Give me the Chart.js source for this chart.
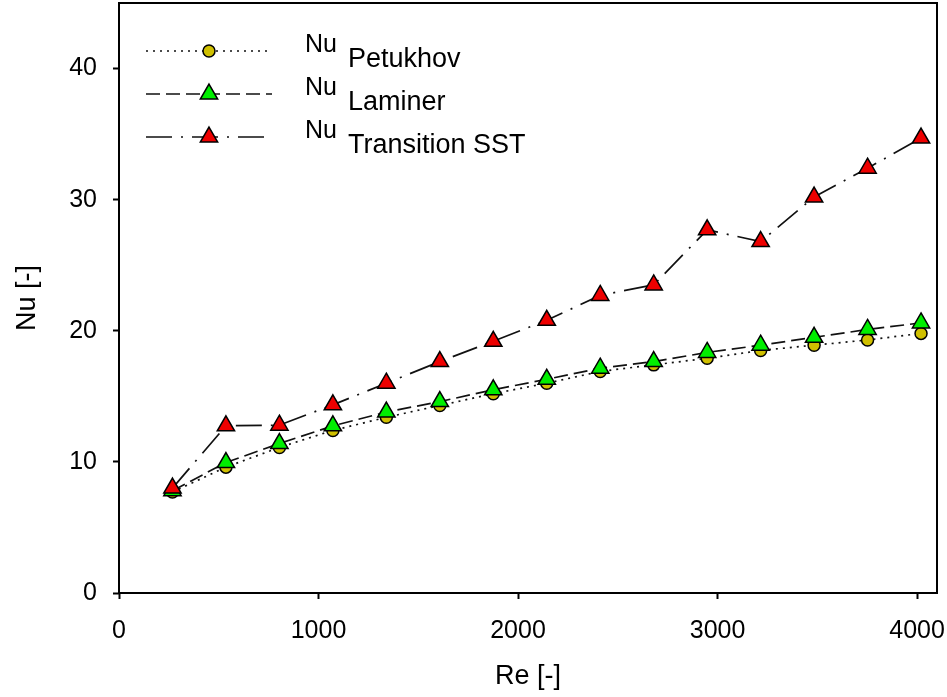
<!DOCTYPE html>
<html>
<head>
<meta charset="utf-8">
<title>Nu x Re</title>
<script src="https://cdn.jsdelivr.net/npm/chart.js@4.4.1/dist/chart.umd.min.js"></script>
<style>
    body { margin: 0; background: #ffffff; }
    canvas { display: block; }
</style>
</head>
<body>
<canvas id="nuChart" width="947" height="697"></canvas>
<script>
// valores
const reynolds = [268, 536, 804, 1072, 1340, 1608, 1876, 2144, 2412, 2680, 2948, 3216, 3484, 3752, 4020]
const nuPetukhov = [7.7, 9.6, 11.1, 12.4, 13.4, 14.3, 15.2, 16.0, 16.9, 17.4, 17.9, 18.5, 18.9, 19.3, 19.8]
const nuLaminer = [7.8, 9.95, 11.4, 12.75, 13.8, 14.6, 15.5, 16.3, 17.15, 17.65, 18.35, 18.9, 19.5, 20.1, 20.6]
const nuTransition = [8.0, 12.75, 12.8, 14.35, 16.0, 17.65, 19.2, 20.8, 22.7, 23.5, 27.7, 26.8, 30.2, 32.4, 34.7]
const nomes = ['Petukhov', 'Laminer', 'Transition SST']
const xTicks = [0, 1000, 2000, 3000, 4000]
const yTicks = [0, 10, 20, 30, 40]

function pontos(valores) {
    return reynolds.map((re, i) => ({ x: re, y: valores[i] }))
}

const fonte = "'Liberation Sans', Arial, sans-serif"

// o chart.js reserva espaço pros labels das pontas, aqui zera isso
function semPadding(scale) {
    scale.paddingLeft = 0
    scale.paddingRight = 0
    scale.paddingTop = 0
    scale.paddingBottom = 0
}

// moldura + legenda com subscrito (Nu_Petukhov etc)
const molduraLegenda = {
    id: 'molduraLegenda',
    afterDraw(chart) {
        const c = chart.ctx
        const area = chart.chartArea
        c.save()
        c.strokeStyle = '#000'
        c.lineWidth = 2
        c.strokeRect(area.left, area.top, area.right - area.left, area.bottom - area.top)

        const linhaIni = 146
        const linhaFim = 272
        const marcaX = 209
        chart.data.datasets.forEach((ds, i) => {
            const y = 51 + i * 43
            c.setLineDash(ds.borderDash)
            c.lineWidth = ds.borderWidth
            c.strokeStyle = ds.borderColor
            c.beginPath()
            c.moveTo(linhaIni, y)
            c.lineTo(linhaFim, y)
            c.stroke()
            c.setLineDash([])
            c.fillStyle = ds.pointBackgroundColor
            c.strokeStyle = '#000'
            c.lineWidth = 1.5
            Chart.helpers.drawPoint(c, { pointStyle: ds.pointStyle, radius: ds.pointRadius, rotation: 0, borderWidth: 1.5 }, marcaX, y)

            c.fillStyle = '#000'
            c.textBaseline = 'alphabetic'
            c.font = '25px ' + fonte
            c.fillText('Nu', 305, y + 1)
            c.font = '27px ' + fonte
            c.fillText(nomes[i], 348, y + 16)
        })
        c.restore()
    }
}

const ctx = document.getElementById('nuChart').getContext('2d')
const nuChart = new Chart(ctx, {
    type: 'line',
    data: {
        datasets: [
            {
                label: 'Nu Petukhov',
                data: pontos(nuPetukhov),
                borderColor: '#111',
                borderWidth: 1.7,
                borderDash: [2, 5],
                pointStyle: 'circle',
                pointRadius: 6,
                pointBackgroundColor: '#d0c000',
                pointBorderColor: '#000',
                pointBorderWidth: 1.5,
                order: 3,
                tension: 0
            },
            {
                label: 'Nu Laminer',
                data: pontos(nuLaminer),
                borderColor: '#111',
                borderWidth: 1.7,
                borderDash: [14, 6],
                pointStyle: 'triangle',
                pointRadius: 10,
                pointBackgroundColor: '#00ee00',
                pointBorderColor: '#000',
                pointBorderWidth: 1.5,
                order: 2,
                tension: 0
            },
            {
                label: 'Nu Transition SST',
                data: pontos(nuTransition),
                borderColor: '#111',
                borderWidth: 1.7,
                borderDash: [26, 9, 2, 9],
                pointStyle: 'triangle',
                pointRadius: 10,
                pointBackgroundColor: '#ee0000',
                pointBorderColor: '#000',
                pointBorderWidth: 1.5,
                order: 1,
                tension: 0
            }
        ]
    },
    options: {
        responsive: false,
        animation: false,
        layout: {
            autoPadding: false,
            padding: { top: 3, right: 10, left: 0, bottom: 0 }
        },
        plugins: {
            legend: { display: false },
            tooltip: { enabled: false }
        },
        scales: {
            x: {
                type: 'linear',
                min: 0,
                max: 4100,
                afterFit: scale => { scale.height = 104; semPadding(scale) },
                afterBuildTicks: scale => { scale.ticks = xTicks.map(v => ({ value: v })) },
                border: { display: false },
                grid: {
                    drawOnChartArea: false,
                    drawTicks: true,
                    tickLength: 6,
                    tickWidth: 2,
                    tickColor: '#000'
                },
                ticks: {
                    color: '#000',
                    padding: 17,
                    maxRotation: 0,
                    callback: v => String(v),
                    font: { size: 25, family: fonte }
                },
                title: {
                    display: true,
                    text: 'Re [-]',
                    color: '#000',
                    padding: 4,
                    font: { size: 27, family: fonte }
                }
            },
            y: {
                type: 'linear',
                min: 0,
                max: 45,
                afterFit: scale => { scale.width = 119; semPadding(scale) },
                afterBuildTicks: scale => { scale.ticks = yTicks.map(v => ({ value: v })) },
                border: { display: false },
                grid: {
                    drawOnChartArea: false,
                    drawTicks: true,
                    tickLength: 6,
                    tickWidth: 2,
                    tickColor: '#000'
                },
                ticks: {
                    color: '#000',
                    padding: 16,
                    callback: v => String(v),
                    font: { size: 25, family: fonte }
                },
                title: {
                    display: true,
                    text: 'Nu [-]',
                    color: '#000',
                    padding: 11,
                    font: { size: 27, family: fonte }
                }
            }
        }
    },
    plugins: [molduraLegenda]
})
</script>
</body>
</html>
